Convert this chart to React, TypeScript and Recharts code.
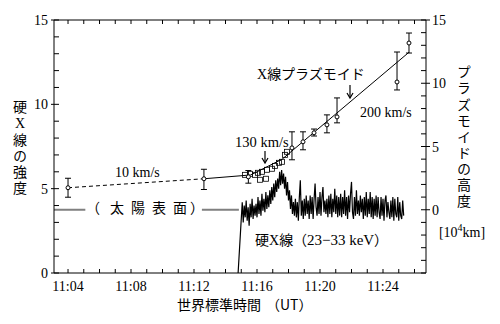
import { ComposedChart, Line, Scatter, ErrorBar, XAxis, YAxis } from "recharts";

// time axis: minutes after 11:00 UT
const minuteTicks = [4, 5, 6, 7, 8, 9, 10, 11, 12, 13, 14, 15, 16, 17, 18, 19, 20, 21, 22, 23, 24, 25, 26];
const labelledMinutes = [4, 8, 12, 16, 20, 24];
const timeLabels = ["11:04", "11:08", "11:12", "11:16", "11:20", "11:24"];

const intensityTicks = [0, 1, 2, 3, 4, 5, 6, 7, 8, 9, 10, 11, 12, 13, 14, 15];
const heightTicks = [-5, -4, -3, -2, -1, 0, 1, 2, 3, 4, 5, 6, 7, 8, 9, 10, 11, 12, 13, 14, 15];
const majorValues = [0, 5, 10, 15];

// hard X-ray 23-33 keV (left axis); onset, then one sample every 1/16 min from 11:15:00
const hxrOnsetTime = 14.8;
const hxrOnsetValue = 0;
const hxrStart = 15.0;
const hxrStep = 0.0625;
const hxrValues = [
  3.2, 4.2, 3.0, 4.0, 3.3, 4.3, 3.1, 3.9, 2.8, 4.1, 3.3, 4.4, 3.2, 4.0, 3.4,
  4.1, 3.3, 4.5, 3.5, 4.3, 3.4, 4.7, 3.7, 4.4, 3.6, 4.8, 3.8, 4.6, 3.9, 4.9,
  4.1, 5.1, 4.3, 5.3, 4.5, 5.5, 4.8, 5.6,
  5.0, 6.0, 5.2, 6.1, 5.3, 5.9, 5.0, 5.7,
  4.6, 5.4, 4.3, 4.9, 3.8, 4.6, 3.5, 4.2,
  3.4, 4.4, 3.3, 4.2, 3.1, 4.5, 5.5, 3.4, 4.3, 3.2, 4.4, 3.4, 4.6, 3.5, 4.3, 3.2,
  4.6, 3.5, 4.5, 3.2, 4.4, 5.3, 3.9, 3.4, 4.5, 3.5, 4.8, 3.4, 4.5, 5.1, 3.6, 4.3,
  3.5, 4.4, 3.3, 4.6, 3.5, 4.7, 3.3, 4.4, 3.6, 5.0, 3.5, 4.6, 3.3, 4.5, 3.4, 4.7,
  3.3, 4.5, 3.5, 4.9, 3.4, 4.5, 3.2, 4.6, 3.6, 4.7, 5.4, 3.6, 3.2, 4.5, 3.4, 4.9,
  3.5, 4.3, 3.4, 4.6, 3.6, 4.4, 3.2, 4.5, 3.4, 4.8, 3.3, 4.4, 3.5, 4.8, 3.3, 4.5,
  3.2, 4.4, 3.4, 4.6, 3.3, 4.5, 3.6, 3.2, 4.5, 3.4, 4.4, 3.1, 4.3, 4.6, 3.3, 4.2,
  3.6, 3.2, 4.3, 3.3, 4.5, 3.1, 4.4, 3.5, 3.3, 4.5, 3.1, 4.2, 3.4, 3.2, 4.3, 3.4,
];

// plasmoid height [10^4 km] (right axis), error = [below, above]
const plasmoidTimes = [4.0, 12.63, 15.45, 18.22, 18.92, 19.62, 20.44, 21.08, 24.89, 25.65];
const plasmoidHeights = [1.74, 2.45, 2.6, 4.89, 5.37, 6.08, 6.71, 7.34, 10.1, 13.18];
const plasmoidErrors = [
  [0.75, 0.75], [0.85, 0.75], [0.5, 0.5], [0.94, 1.27], [0.63, 0.79],
  [0.25, 0.3], [0.63, 0.79], [0.47, 1.5], [0.63, 2.37], [0.79, 0.79],
];

// dense cluster of measurements around the onset (square markers)
const clusterTimes = [15.24, 15.56, 15.87, 16.06, 16.19, 16.32, 16.57, 16.63, 16.95, 17.14, 17.4, 17.59, 17.78, 17.9];
const clusterHeights = [2.76, 2.84, 2.76, 2.92, 2.37, 3.0, 2.45, 3.16, 3.24, 3.47, 3.71, 3.79, 4.34, 4.58];

// fitted motion: 10 km/s (dashed), then 130 and 200 km/s
const slowFitTimes = [4.0, 12.63];
const slowFitHeights = [1.74, 2.45];
const fastFitTimes = [12.63, 15.6, 17.6, 25.65];
const fastFitHeights = [2.45, 2.75, 4.0, 12.45];

// solar surface level (height 0)
const surfaceTimes = [3.11, 5.1, 5.2, 12.5, 14.85];
const surfaceLevels = [0, 0, null, 0, 0];

const hxrData = [
  { t: hxrOnsetTime, v: hxrOnsetValue },
  ...hxrValues.map((v, i) => ({ t: hxrStart + i * hxrStep, v })),
];
const plasmoidData = plasmoidTimes.map((t, i) => ({ t, h: plasmoidHeights[i], e: plasmoidErrors[i] }));
const clusterData = clusterTimes.map((t, i) => ({ t, h: clusterHeights[i] }));
const slowFit = slowFitTimes.map((t, i) => ({ t, h: slowFitHeights[i] }));
const fastFit = fastFitTimes.map((t, i) => ({ t, h: fastFitHeights[i] }));
const surface = surfaceTimes.map((t, i) => ({ t, s: surfaceLevels[i] }));

const serif = "'Liberation Serif', 'Noto Sans CJK JP', serif";
const jp = "'Noto Sans CJK JP', sans-serif";
const domainX: [number, number] = [3.11, 26.73];

const BottomTick = (props: any) => {
  const { x, y, payload } = props;
  const idx = labelledMinutes.indexOf(payload.value);
  return (
    <g>
      <line x1={x} x2={x} y1={y} y2={y - 4} stroke="#000" />
      {idx >= 0 && (
        <text x={x} y={y + 18} textAnchor="middle" fontSize={14} fontFamily={serif} fill="#000">
          {timeLabels[idx]}
        </text>
      )}
    </g>
  );
};

const TopTick = (props: any) => {
  const { x, y } = props;
  return <line x1={x} x2={x} y1={y} y2={y + 4} stroke="#000" />;
};

const LeftTick = (props: any) => {
  const { x, y, payload } = props;
  const major = majorValues.includes(payload.value);
  return (
    <g>
      <line x1={major ? x - 3 : x} x2={x + 5} y1={y} y2={y} stroke="#000" />
      {major && (
        <text x={x - 6} y={y + 5} textAnchor="end" fontSize={14} fontFamily={serif} fill="#000">
          {payload.value}
        </text>
      )}
    </g>
  );
};

const RightTick = (props: any) => {
  const { x, y, payload } = props;
  const major = majorValues.includes(payload.value);
  return (
    <g>
      <line x1={x - 5} x2={major ? x + 4 : x} y1={y} y2={y} stroke="#000" />
      {major && (
        <text x={x + 6} y={y + 5} textAnchor="start" fontSize={14} fontFamily={serif} fill="#000">
          {payload.value}
        </text>
      )}
    </g>
  );
};

const surfaceChars = ["（", "太", "陽", "表", "面", "）"];
const surfaceX = [86, 110, 131, 152, 173, 190];

const vertical = { writingMode: "vertical-rl", textOrientation: "upright" } as any;

const Arrow = ({ x, y1, y2 }: { x: number; y1: number; y2: number }) => (
  <g>
    <line x1={x} x2={x} y1={y1} y2={y2 - 1} stroke="#000" strokeWidth={1.2} />
    <path d={`M${x - 3},${y2 - 5} L${x},${y2} L${x + 3},${y2 - 5}`} fill="none" stroke="#000" strokeWidth={1.2} />
  </g>
);

export default function App() {
  return (
    <div style={{ position: "fixed", left: 0, top: 0, width: 500, height: 324, background: "#fff" }}>
      <ComposedChart width={500} height={324} margin={{ top: 0, right: 0, bottom: 0, left: 0 }}>
        <XAxis
          xAxisId="bottom"
          dataKey="t"
          type="number"
          domain={domainX}
          allowDataOverflow
          ticks={minuteTicks}
          interval={0}
          tickSize={0}
          tickMargin={0}
          tickLine={false}
          tick={BottomTick}
          height={51}
          stroke="#000"
        />
        <XAxis
          xAxisId="top"
          orientation="top"
          dataKey="t"
          type="number"
          domain={domainX}
          allowDataOverflow
          ticks={minuteTicks}
          interval={0}
          tickSize={0}
          tickMargin={0}
          tickLine={false}
          tick={TopTick}
          height={20}
          stroke="#000"
        />
        <YAxis
          yAxisId="left"
          type="number"
          domain={[0, 15]}
          allowDataOverflow
          ticks={intensityTicks}
          interval={0}
          tickSize={0}
          tickMargin={0}
          tickLine={false}
          tick={LeftTick}
          width={54}
          stroke="#000"
        />
        <YAxis
          yAxisId="right"
          orientation="right"
          type="number"
          domain={[-5, 15]}
          allowDataOverflow
          ticks={heightTicks}
          interval={0}
          tickSize={0}
          tickMargin={0}
          tickLine={false}
          tick={RightTick}
          width={74}
          stroke="#000"
        />
        <Line
          xAxisId="top"
          yAxisId="right"
          data={surface}
          dataKey="s"
          stroke="#808080"
          strokeWidth={2}
          dot={false}
          connectNulls={false}
          isAnimationActive={false}
        />
        <Line
          xAxisId="bottom"
          yAxisId="left"
          data={hxrData}
          dataKey="v"
          stroke="#000"
          strokeWidth={1.2}
          dot={false}
          isAnimationActive={false}
        />
        <Line
          xAxisId="bottom"
          yAxisId="right"
          data={slowFit}
          dataKey="h"
          stroke="#000"
          strokeWidth={1}
          strokeDasharray="4 3"
          dot={false}
          isAnimationActive={false}
        />
        <Line
          xAxisId="bottom"
          yAxisId="right"
          data={fastFit}
          dataKey="h"
          stroke="#000"
          strokeWidth={1}
          dot={false}
          isAnimationActive={false}
        />
        <Scatter
          xAxisId="bottom"
          yAxisId="right"
          data={clusterData}
          dataKey="h"
          isAnimationActive={false}
          shape={(p: any) => (
            <rect x={p.cx - 2.5} y={p.cy - 2.5} width={5} height={5} fill="none" stroke="#000" strokeWidth={0.8} />
          )}
        />
        <Scatter
          xAxisId="bottom"
          yAxisId="right"
          data={plasmoidData}
          dataKey="h"
          isAnimationActive={false}
          shape={(p: any) => <circle cx={p.cx} cy={p.cy} r={2} fill="#fff" stroke="#000" strokeWidth={1} />}
        >
          <ErrorBar dataKey="e" direction="y" width={3} stroke="#000" strokeWidth={1} />
        </Scatter>
      </ComposedChart>

      <svg
        width={500}
        height={324}
        style={{ position: "absolute", left: 0, top: 0, pointerEvents: "none" }}
      >
        <text x={20} y={100} style={vertical} letterSpacing={2} fontSize={14} fontFamily={jp} fill="#000">
          硬<tspan fontFamily={serif}>X</tspan>線の強度
        </text>
        <text x={464} y={65} style={vertical} letterSpacing={2.1} fontSize={14} fontFamily={jp} fill="#000">
          プラズモイドの高度
        </text>
        <text x={462} y={237} textAnchor="middle" fontSize={14} fontFamily={serif} fill="#000">
          [10<tspan dy={-6} fontSize={10}>4</tspan>
          <tspan dy={6}>km]</tspan>
        </text>

        <text x={177} y={310} fontSize={14} fontFamily={jp} fill="#000">世界標準時間</text>
        <text x={266} y={310} fontSize={14} fontFamily={jp} fill="#000">（UT）</text>

        <text x={257} y={79} fontSize={14} fontFamily={jp} fill="#000">
          <tspan fontFamily={serif}>X</tspan>線プラズモイド
        </text>
        <Arrow x={350} y1={85} y2={98} />
        <text x={360} y={117} fontSize={14} fontFamily={serif} fill="#000">200 km/s</text>

        <text x={235} y={147} fontSize={14.5} fontFamily={serif} fill="#000">130 km/s</text>
        <Arrow x={265} y1={151} y2={163} />

        <text x={115} y={177} fontSize={14} fontFamily={serif} fill="#000">10 km/s</text>

        {surfaceChars.map((c, i) => (
          <text key={"s" + i} x={surfaceX[i]} y={213} fontSize={14} fontFamily={jp} fill="#000">
            {c}
          </text>
        ))}

        <text x={255} y={245} fontSize={14} fontFamily={jp} fill="#000">
          硬<tspan fontFamily={serif}>X</tspan>線
        </text>
        <text x={293} y={245} fontSize={14} fontFamily={jp} fill="#000">（</text>
        <text x={307} y={245} fontSize={15} fontFamily={serif} fill="#000">23−33 keV</text>
        <text x={374} y={245} fontSize={14} fontFamily={jp} fill="#000">）</text>
      </svg>
    </div>
  );
}
